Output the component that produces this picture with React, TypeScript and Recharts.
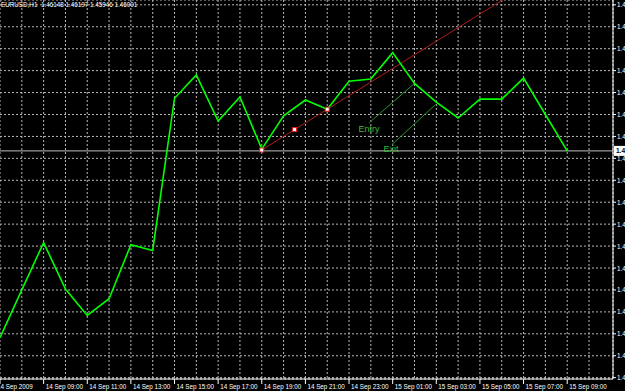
import React from 'react';
import {
  ComposedChart,
  Line,
  Scatter,
  XAxis,
  YAxis,
  CartesianGrid,
  ReferenceLine,
  ReferenceDot,
} from 'recharts';

// EURUSD H1 closes, hour 0 = 14 Sep 07:00
const hours = [0, 1, 2, 3, 4, 5, 6, 7, 8, 9, 10, 11, 12, 13, 14, 15, 16, 17, 18, 19, 20, 21, 22, 23, 24, 25, 26];
const closes = [
  1.45575, 1.45684, 1.45792, 1.45686, 1.45626, 1.45664, 1.45787, 1.45774, 1.46121, 1.46174,
  1.46069, 1.46124, 1.46005, 1.46081, 1.46117, 1.46096, 1.4616, 1.46165, 1.46225, 1.46155,
  1.46112, 1.46076, 1.46119, 1.46119, 1.46167, 1.46084, 1.46001,
];
const gridHours = [...hours, 27];
const timeLabels = [
  '14 Sep 2009', '14 Sep 09:00', '14 Sep 11:00', '14 Sep 13:00', '14 Sep 15:00', '14 Sep 17:00',
  '14 Sep 19:00', '14 Sep 21:00', '14 Sep 23:00', '15 Sep 01:00', '15 Sep 03:00', '15 Sep 05:00',
  '15 Sep 07:00', '15 Sep 09:00',
];
const priceTicks = [
  1.46334, 1.46284, 1.46234, 1.46184, 1.46134, 1.46084, 1.46034, 1.45984, 1.45934,
  1.45884, 1.45834, 1.45784, 1.45734, 1.45684, 1.45634, 1.45584, 1.45534, 1.45484,
];
const bid = 1.46001;
const title = 'EURUSD,H1  1.46148 1.46197 1.45946 1.46001';

// trend line: two anchors, drawn as a ray
const trendAnchors = [
  { t: 12, p: 1.46003 },
  { t: 15, p: 1.46096 },
];
const trendMid = { t: 13.5, p: 1.460495 };
const trendEnd = { t: 24, p: 1.46375 };

const entryLine = [{ t: 16.92, p: 1.46065 }, { t: 19, p: 1.46155 }];
const exitLine = [{ t: 17.96, p: 1.46015 }, { t: 19.95, p: 1.46106 }];
const entryText = { t: 16.91, p: 1.46051 };
const exitText = { t: 17.92, p: 1.46005 };

const rows = hours.map((t, i) => ({ t, close: closes[i] }));
const markers = [trendAnchors[0], trendMid, trendAnchors[1]];

const FONT = '"Liberation Sans", Arial, sans-serif';

function TimeTick(props: any) {
  const { x, y, payload } = props;
  const v = payload.value;
  if (v % 2 !== 0) return <g />;
  return (
    <g>
      <line x1={x} x2={x} y1={y} y2={y + 5} stroke="#fff" />
      <text
        x={v === 0 ? x - 3 : x + 2}
        y={y + 7}
        fill="#fff"
        fontSize={6.3}
        fontFamily={FONT}
        dominantBaseline="central"
      >
        {timeLabels[v / 2]}
      </text>
    </g>
  );
}

function PriceTick(props: any) {
  const { x, y, payload } = props;
  return (
    <g>
      <line x1={x} x2={x + 3} y1={y} y2={y} stroke="#fff" />
      <text x={x + 4} y={y} fill="#fff" fontSize={6.3} fontFamily={FONT} dominantBaseline="central">
        {payload.value.toFixed(5)}
      </text>
    </g>
  );
}

function BidLabel(props: any) {
  const vb = props.viewBox || {};
  const x = vb.x + vb.width + 1;
  return (
    <g>
      <rect x={x} y={vb.y - 5} width={14} height={10} fill="#fff" />
      <text x={x + 2} y={vb.y} fill="#000" fontSize={6.5} fontWeight="bold" fontFamily={FONT} dominantBaseline="central">
        {bid.toFixed(5)}
      </text>
    </g>
  );
}

function Square(props: any) {
  const { cx, cy } = props;
  return <rect x={cx - 2} y={cy - 2} width={4} height={4} fill="#fff" stroke="#e02020" strokeWidth={1} />;
}

export default function App() {
  return (
    <div
      style={{
        position: 'absolute',
        left: 0,
        top: 0,
        width: 625,
        height: 391,
        background: '#000',
        overflow: 'hidden',
      }}
    >
      <ComposedChart
        width={625}
        height={391}
        data={rows}
        margin={{ top: 0, right: 0, bottom: 0, left: 0 }}
      >
        <CartesianGrid stroke="#b8b8b8" strokeDasharray="2 2" />
        <XAxis
          dataKey="t"
          type="number"
          domain={[0, 28.1]}
          allowDataOverflow
          ticks={gridHours}
          interval={0}
          height={12}
          tickSize={0}
          tickMargin={0}
          axisLine={{ stroke: '#fff' }}
          tickLine={false}
          tick={<TimeTick />}
        />
        <YAxis
          orientation="right"
          type="number"
          domain={[1.45481, 1.46345]}
          allowDataOverflow
          ticks={priceTicks}
          interval={0}
          width={12}
          tickSize={0}
          tickMargin={0}
          axisLine={{ stroke: '#fff' }}
          tickLine={false}
          tick={<PriceTick />}
        />
        <ReferenceLine y={bid} stroke="#c0c0c0" label={<BidLabel />} />
        <ReferenceLine
          segment={[
            { x: trendAnchors[0].t, y: trendAnchors[0].p },
            { x: trendEnd.t, y: trendEnd.p },
          ]}
          stroke="#b01c1c"
          strokeWidth={1}
          ifOverflow="hidden"
        />
        <ReferenceLine
          segment={entryLine.map((d) => ({ x: d.t, y: d.p }))}
          stroke="#2f8f2f"
          strokeWidth={1}
        />
        <ReferenceLine
          segment={exitLine.map((d) => ({ x: d.t, y: d.p }))}
          stroke="#2f8f2f"
          strokeWidth={1}
        />
        <Line
          dataKey="close"
          type="linear"
          stroke="#00ff00"
          strokeWidth={1.6}
          dot={false}
          activeDot={false}
          isAnimationActive={false}
        />
        <Scatter
          data={markers}
          dataKey="p"
          shape={<Square />}
          activeShape={<Square />}
          isAnimationActive={false}
        />
        <ReferenceDot
          x={entryText.t}
          y={entryText.p}
          r={0}
          stroke="none"
          label={{ value: 'Entry', position: 'center', fill: '#3cb83c', fontSize: 9, fontFamily: FONT }}
        />
        <ReferenceDot
          x={exitText.t}
          y={exitText.p}
          r={0}
          stroke="none"
          label={{ value: 'Exit', position: 'center', fill: '#3cb83c', fontSize: 9, fontFamily: FONT }}
        />
      </ComposedChart>
      <div
        style={{
          position: 'absolute',
          left: 1,
          top: 2,
          color: '#fff',
          fontSize: 6.3,
          fontFamily: FONT,
          lineHeight: 1,
          whiteSpace: 'pre',
        }}
      >
        {title}
      </div>
    </div>
  );
}
